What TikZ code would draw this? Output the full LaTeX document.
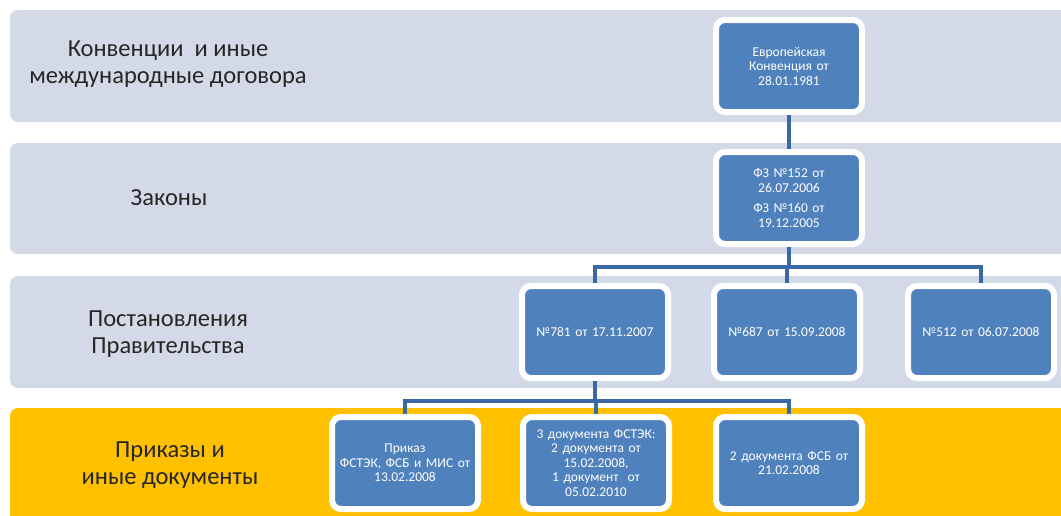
\documentclass[tikz,border=0pt]{standalone}
\usepackage{fontspec}
\setmainfont{Carlito}
\usetikzlibrary{shadows}
\definecolor{bandgray}{RGB}{211,217,230}
\definecolor{bandyellow}{RGB}{255,192,0}
\definecolor{boxblue}{RGB}{79,129,189}
\definecolor{linkblue}{RGB}{58,104,164}
\begin{document}
\begin{tikzpicture}[x=1pt,y=-1pt,
  bandbox/.style={rounded corners=8pt},
  lvl/.style={font=\fontsize{24.5}{26.5}\selectfont, align=center, text=black!85},
  doc/.style={draw=white, line width=6pt, fill=boxblue, rounded corners=9pt,
    minimum width=146pt, minimum height=92pt, text width=140pt, inner sep=0pt,
    align=center, text=white, font=\fontsize{13.5}{14.5}\selectfont,
    drop shadow={shadow xshift=2pt, shadow yshift=-2pt, opacity=0.3, fill=black}},
  link/.style={draw=linkblue, line width=3.5pt}
]
\useasboundingbox (0,0) rectangle (1061,515);
\begin{scope}
\clip (0,0) rectangle (1061,515);
\fill[bandgray, bandbox] (10,10) rectangle (1085,122);
\fill[bandgray, bandbox] (10,143) rectangle (1085,254);
\fill[bandgray, bandbox] (10,276) rectangle (1085,388);
\fill[bandyellow, bandbox] (10,408) rectangle (1085,540);
\end{scope}

\node[lvl] (l1) at (168,64) {Конвенции \ и иные\\международные договора};
\node[lvl] (l2) at (169,198) {Законы};
\node[lvl] (l3) at (168,334) {Постановления\\Правительства};
\node[lvl] (l4) at (170,465) {Приказы и\\иные документы};

\node[doc] (eu) at (789,66) {Европейская\\Конвенция от\\28.01.1981};
\node[doc] (fz) at (789,198) {ФЗ №152 от\\26.07.2006\\[6pt]ФЗ №160 от\\19.12.2005};
\node[doc] (p781) at (595,332) {№781 от 17.11.2007};
\node[doc] (p687) at (787,332) {№687 от 15.09.2008};
\node[doc] (p512) at (981,332) {№512 от 06.07.2008};
\node[doc] (ord) at (405,463) {Приказ\\ФСТЭК, ФСБ и МИС от\\13.02.2008};
\node[doc] (fstek) at (596,463) {3 документа ФСТЭК:\\2 документа от\\15.02.2008,\\1 документ \ от\\05.02.2010};
\node[doc] (fsb) at (789,463) {2 документа ФСБ от\\21.02.2008};

\coordinate (busA) at (0,267);
\coordinate (busB) at (0,401);
\draw[link] (eu.south) -- (fz.north);
\draw[link] (fz.south) |- (p781.north |- busA) -- (p781.north);
\draw[link] (fz.south) |- (p687.north |- busA) -- (p687.north);
\draw[link] (fz.south) |- (p512.north |- busA) -- (p512.north);
\draw[link] (p781.south) |- (ord.north |- busB) -- (ord.north);
\draw[link] (p781.south) |- (fstek.north |- busB) -- (fstek.north);
\draw[link] (p781.south) |- (fsb.north |- busB) -- (fsb.north);
\end{tikzpicture}
\end{document}
